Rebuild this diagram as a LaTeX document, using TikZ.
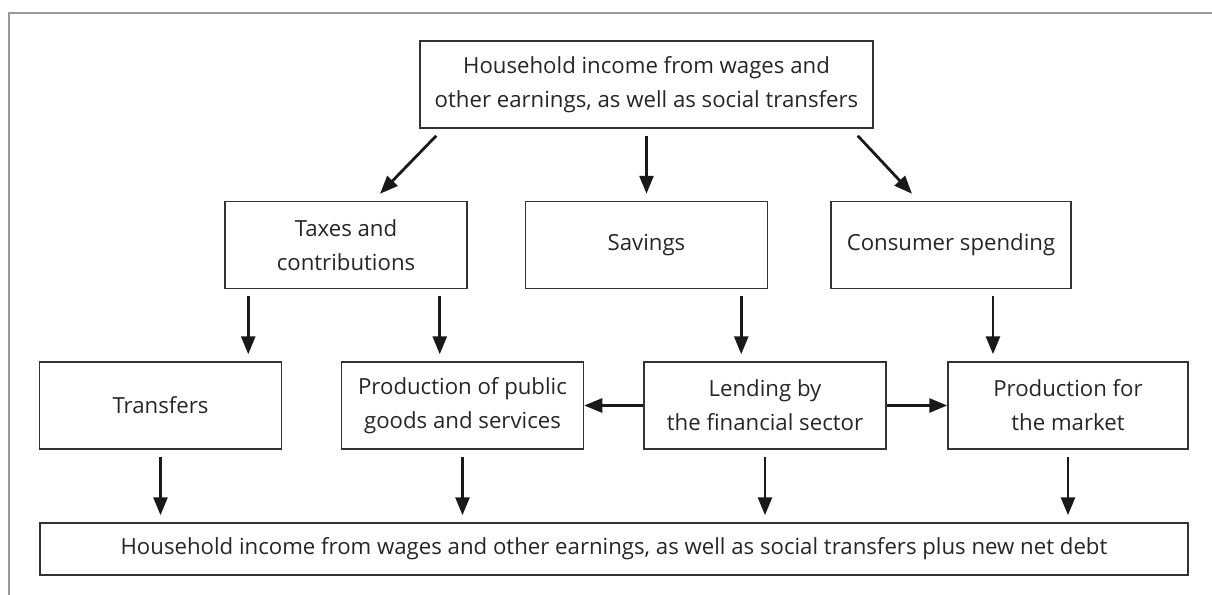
\documentclass[tikz,border=0pt]{standalone}
\usepackage{fontspec}
\setmainfont{Open Sans}
\usetikzlibrary{arrows.meta}
\begin{document}
\begin{tikzpicture}[x=0.5pt, y=-0.5pt,
        box/.style={draw=black!80, line width=0.75pt, align=center, text=black!85,
            minimum width=121pt, minimum height=43.5pt, inner sep=2pt,
            font=\fontsize{11.1}{17}\selectfont},
        flow/.style={line width=1.4pt, black!90, -{Triangle[length=9pt, width=7pt]}},
        gap/.style={shorten <=3.5pt, shorten >=3.5pt}]
        \useasboundingbox (0,0) rectangle (1212,595);
        \draw[black!40, line width=0.75pt] (9,595) -- (9,13) -- (1212,13);

        \node[box, minimum width=226.5pt] (income) at (646.5, 84.5) {Household income from wages and\\ other earnings, as well as social transfers};
        \node[box] (taxes) at (346, 245) {Taxes and\\ contributions};
        \node[box] (savings) at (646.5, 245) {Savings};
        \node[box, minimum width=120pt] (consumer) at (951, 245) {Consumer spending};
        \node[box] (transfers) at (160.5, 405.5) {Transfers};
        \node[box] (public) at (462.5, 405.5) {Production of public\\ goods and services};
        \node[box] (lending) at (765, 405.5) {Lending by\\ the financial sector};
        \node[box, minimum width=120pt] (market) at (1068, 405.5) {Production for\\ the market};
        \node[box, minimum width=574pt, minimum height=26pt] (total) at (614, 549) {Household income from wages and other earnings, as well as social transfers plus new net debt};

        \draw[flow] ([shift={(17,7)}]income.south west) -- ([shift={(34,-7)}]taxes.north);
        \draw[flow, gap] (income) -- (savings);
        \draw[flow] ([shift={(-16,7)}]income.south east) -- ([shift={(-39,-7)}]consumer.north);

        \draw[flow, gap] ([xshift=12pt]taxes.south west) -- ([xshift=12pt]taxes.south west |- transfers.north);
        \draw[flow, gap] ([xshift=-14pt]taxes.south east) -- ([xshift=-14pt]taxes.south east |- public.north);
        \draw[flow, gap] ([xshift=-13.5pt]savings.south east) -- ([xshift=-13.5pt]savings.south east |- lending.north);
        \draw[flow, gap] ([xshift=21pt]consumer.south) -- ([xshift=21pt]consumer.south |- market.north);

        \draw[flow] (lending) -- (public);
        \draw[flow] (lending) -- (market);

        \draw[flow, gap] (transfers.south) -- (transfers.south |- total.north);
        \draw[flow, gap] (public.south) -- (public.south |- total.north);
        \draw[flow, gap] (lending.south) -- (lending.south |- total.north);
        \draw[flow, gap] (market.south) -- (market.south |- total.north);
\end{tikzpicture}
\end{document}
